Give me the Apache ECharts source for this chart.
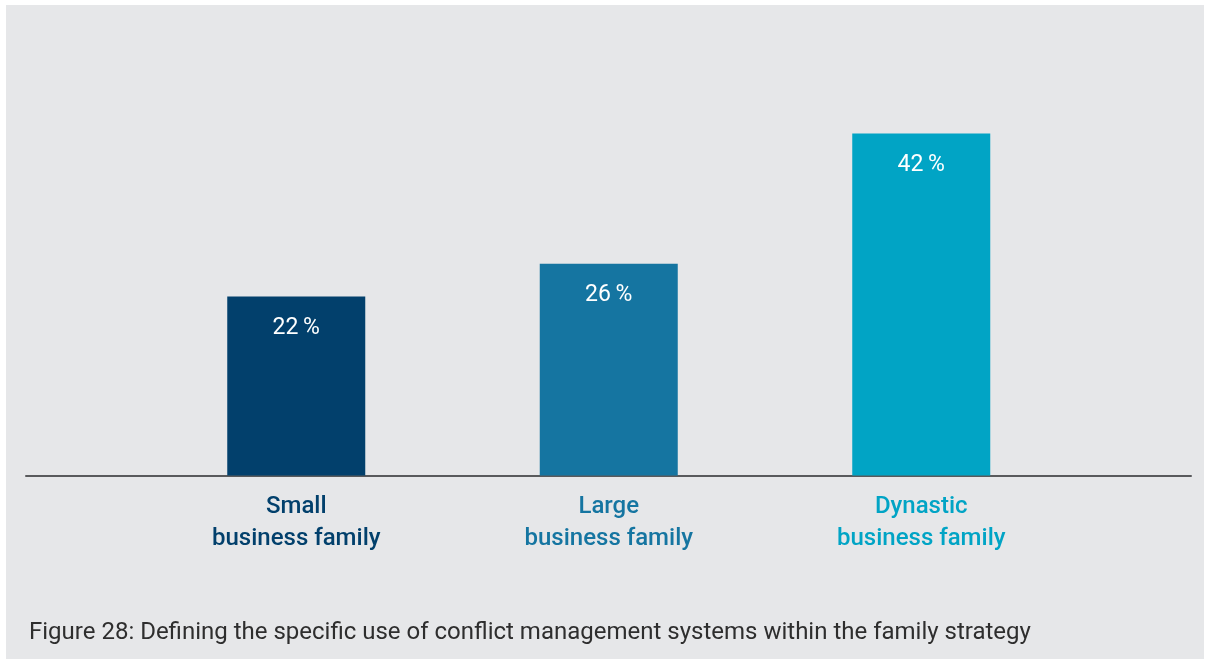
<!DOCTYPE html>
<html>
<head>
<meta charset="utf-8">
<script src="https://cdn.jsdelivr.net/npm/echarts@6/dist/echarts.min.js"></script>
<style>
  html, body { margin: 0; padding: 0; background: #ffffff; }
  #chart { width: 1208px; height: 660px; }
</style>
</head>
<body>
<div id="chart"></div>
<script>
// Share of business families that define the specific use of
// conflict management systems within their family strategy
const categories = ['Small\nbusiness family', 'Large\nbusiness family', 'Dynastic\nbusiness family'];
const shares = [22, 26, 42];
const barColors = ['#02406c', '#1575a1', '#01a4c5'];
const caption = 'Figure 28: Defining the specific use of conflict management systems within the family strategy';

const chart = echarts.init(document.getElementById('chart'), null, { renderer: 'canvas' });

const option = {
  backgroundColor: '#ffffff',
  animation: false,
  textStyle: { fontFamily: 'Roboto' },
  graphic: [{
    type: 'rect',
    z: -10,
    shape: { x: 6, y: 5, width: 1198, height: 654 },
    style: { fill: '#e6e7e9' }
  }],
  title: {
    text: caption,
    left: 29,
    top: 621,
    padding: 0,
    textStyle: {
      fontFamily: 'Roboto',
      fontSize: 24,
      fontWeight: 400,
      color: '#2e2e2e',
      lineHeight: 24
    }
  },
  grid: [
    { left: 140, right: 130.5, top: 68.5, bottom: 184.5 },
    { left: 26, right: 17, top: 68.5, bottom: 184.5 }
  ],
  xAxis: [{
    type: 'category',
    gridIndex: 0,
    data: categories,
    axisLine: { show: false },
    axisTick: { show: false },
    axisLabel: {
      margin: 15,
      interval: 0,
      fontFamily: 'Roboto',
      fontSize: 24,
      fontWeight: 500,
      lineHeight: 32,
      color: (value, index) => barColors[index]
    }
  }, {
    type: 'value',
    gridIndex: 1,
    min: 0,
    max: 1,
    axisLine: { show: true, onZero: false, lineStyle: { color: '#595a5c', width: 2 } },
    axisTick: { show: false },
    axisLabel: { show: false },
    splitLine: { show: false }
  }],
  yAxis: [{
    type: 'value',
    gridIndex: 0,
    min: 0,
    max: 50,
    show: false,
    splitLine: { show: false }
  }, {
    type: 'value',
    gridIndex: 1,
    min: 0,
    max: 1,
    show: false,
    splitLine: { show: false }
  }],
  series: [{
    type: 'bar',
    xAxisIndex: 0,
    yAxisIndex: 0,
    barWidth: 138,
    data: shares.map((v, i) => ({ value: v, itemStyle: { color: barColors[i] } })),
    label: {
      show: true,
      position: 'insideTop',
      distance: 20,
      formatter: p => p.value + '\u2009%',
      fontFamily: 'Roboto',
      fontSize: 23,
      fontWeight: 400,
      lineHeight: 23,
      color: '#ffffff'
    }
  }]
};

chart.setOption(option);
</script>
</body>
</html>
